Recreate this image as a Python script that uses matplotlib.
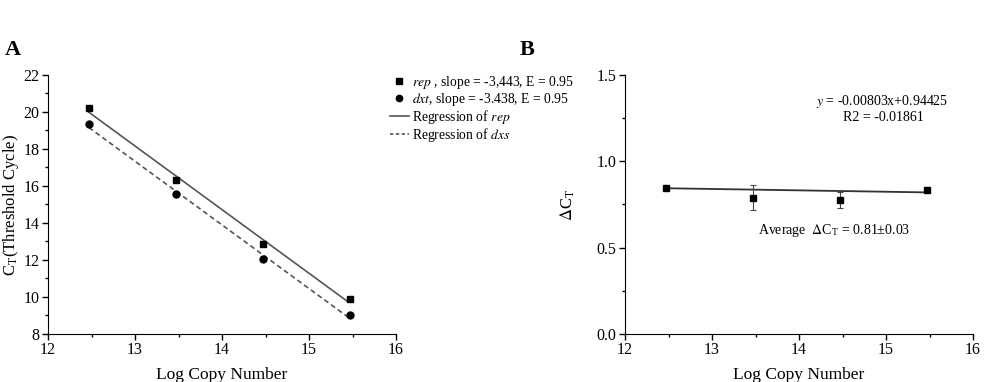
import numpy as np
import matplotlib
matplotlib.use("Agg")
import matplotlib.pyplot as plt
from matplotlib.lines import Line2D
from matplotlib.ticker import MultipleLocator, FormatStrFormatter

plt.rcParams['font.family'] = ['Liberation Serif', 'DejaVu Serif']
plt.rcParams['mathtext.fontset'] = 'stix'

# panel A data
log_copy = [12.47, 13.47, 14.47, 15.47]
ct_rep = [20.2, 16.35, 12.85, 9.9]
ct_dxt = [19.35, 15.55, 12.05, 9.05]

# panel B data
delta_ct = [0.845, 0.79, 0.775, 0.835]
delta_err = [0.0, 0.07, 0.045, 0.015]
fit_slope = -0.00803
fit_icpt = 0.94425

fig = plt.figure(figsize=(10, 3.82), dpi=100)
ax1 = fig.add_axes([0.048, 0.1257, 0.348, 0.678])
ax2 = fig.add_axes([0.625, 0.1257, 0.348, 0.678])

for ax in (ax1, ax2):
    ax.spines['top'].set_visible(False)
    ax.spines['right'].set_visible(False)
    ax.tick_params(direction='out', labelsize=11.5, length=4, width=1, pad=2)
    ax.tick_params(which='minor', direction='out', length=2.5, width=1)
    ax.set_xlim(12, 16)
    ax.xaxis.set_major_locator(MultipleLocator(1))
    ax.xaxis.set_minor_locator(MultipleLocator(0.5))
    ax.set_xlabel("Log Copy Number", fontsize=12.5, labelpad=6)

# --- A ---
x = np.array(log_copy)
xs = np.array([log_copy[0], log_copy[-1] - 0.02])
p_rep = np.polyfit(x, ct_rep, 1)
p_dxt = np.polyfit(x, ct_dxt, 1)
ax1.plot(xs, np.polyval(p_rep, xs), color='#555555', lw=1.2, ls='-')
ax1.plot(xs, np.polyval(p_dxt, xs), color='#555555', lw=1.2, ls=(0, (3, 2)))
ax1.plot(log_copy, ct_rep, 's', color='black', ms=4.5)
ax1.plot(log_copy, ct_dxt, 'o', color='black', ms=5)
ax1.set_ylim(8, 22)
ax1.yaxis.set_major_locator(MultipleLocator(2))
ax1.yaxis.set_minor_locator(MultipleLocator(1))
ax1.set_ylabel(r"C$_\mathregular{T}$(Threshold Cycle)", fontsize=12, labelpad=2)

handles = [
    Line2D([], [], marker='s', ls='none', color='black', ms=4),
    Line2D([], [], marker='o', ls='none', color='black', ms=4.5),
    Line2D([], [], color='#555555', lw=1.2),
    Line2D([], [], color='#555555', lw=1.2, ls=(0, (2, 1.5))),
]
labels = [
    r"$\mathit{rep}$ , slope = -3,443, E = 0.95",
    r"$\mathit{dxt}$, slope = -3.438, E = 0.95",
    r"Regression of $\mathit{rep}$",
    r"Regression of $\mathit{dxs}$",
]
fig.legend(handles, labels, loc='upper left', bbox_to_anchor=(0.383, 0.825),
           frameon=False, fontsize=9.8, handlelength=1.4, handletextpad=0.2,
           labelspacing=0.0, borderpad=0)

# --- B ---
fx = np.array([log_copy[0], log_copy[-1]])
ax2.plot(fx, fit_slope * fx + fit_icpt, color='#333333', lw=1.3)
ax2.errorbar(log_copy, delta_ct, yerr=delta_err, fmt='s', color='black',
             ms=4.5, capsize=2.5, elinewidth=0.8, capthick=0.8, ecolor='#444444')
ax2.set_ylim(0, 1.5)
ax2.yaxis.set_major_locator(MultipleLocator(0.5))
ax2.yaxis.set_minor_locator(MultipleLocator(0.25))
ax2.yaxis.set_major_formatter(FormatStrFormatter('%.1f'))
ax2.set_ylabel(r"$\Delta$C$_\mathregular{T}$", fontsize=12, labelpad=14)

fig.text(0.882, 0.733, r"$\mathit{y}$ = -0.00803x+0.94425",
         ha='center', va='center', fontsize=10)
fig.text(0.883, 0.693, "R2 = -0.01861", ha='center', va='center', fontsize=10)
fig.text(0.834, 0.396, r"Average  $\Delta$C$_\mathregular{T}$ = 0.81±0.03",
         ha='center', va='center', fontsize=10)

fig.text(0.005, 0.855, "A", fontsize=16, fontweight='bold')
fig.text(0.52, 0.855, "B", fontsize=16, fontweight='bold')

fig.savefig("out.png", dpi=100)
